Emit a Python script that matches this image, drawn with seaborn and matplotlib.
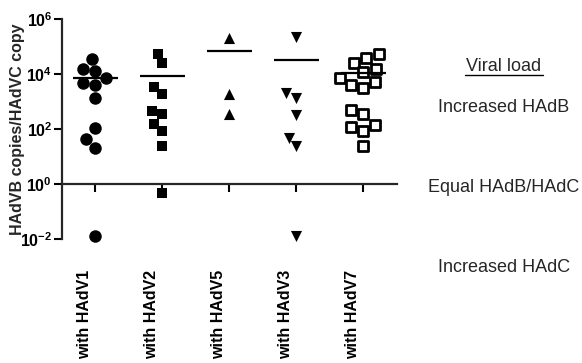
import numpy as np
import pandas as pd
import matplotlib
matplotlib.use('Agg')
import matplotlib.pyplot as plt
import seaborn as sns
from matplotlib.transforms import ScaledTranslation
from matplotlib.lines import Line2D
from matplotlib.ticker import NullLocator

# ---- data (log10 of HAdVB/HAdVC copy ratio) ----
categories = ['with HAdV1', 'with HAdV2', 'with HAdV5', 'with HAdV3', 'with HAdV7']
log_hadv1 = [4.54, 4.18, 4.10, 3.86, 3.68, 3.61, 3.12, 2.04, 1.63, 1.32, -1.88]
log_hadv2 = [4.72, 4.38, 3.52, 3.28, 2.65, 2.55, 2.16, 1.93, 1.38, -0.32]
log_hadv5 = [5.32, 3.25, 2.53]
log_hadv3 = [5.34, 3.30, 3.14, 2.50, 1.68, 1.36, -1.88]
log_hadv7 = [4.72, 4.57, 4.40, 4.18, 4.08, 3.86, 3.70, 3.58, 3.48, 2.70, 2.53,
             2.14, 2.05, 1.93, 1.38]
ytick_values = [1e-2, 1e0, 1e2, 1e4, 1e6]
ytick_labels = [r'$\mathbf{10^{-2}}$', r'$\mathbf{10^{0}}$', r'$\mathbf{10^{2}}$',
                r'$\mathbf{10^{4}}$', r'$\mathbf{10^{6}}$']
side_labels = ['Increased HAdB', 'Equal HAdB/HAdC', 'Increased HAdC']

groups = [log_hadv1, log_hadv2, log_hadv5, log_hadv3, log_hadv7]
df = pd.DataFrame({
    'group': np.concatenate([[c] * len(g) for c, g in zip(categories, groups)]),
    'ratio': 10 ** np.concatenate(groups),
})

sns.set_style('ticks')
plt.rcParams['font.family'] = ['Liberation Sans', 'DejaVu Sans']
plt.rcParams['mathtext.fontset'] = 'custom'
plt.rcParams['mathtext.rm'] = 'Liberation Sans'
plt.rcParams['mathtext.bf'] = 'Liberation Sans:weight=bold'
plt.rcParams['mathtext.default'] = 'bf'

fig, ax = plt.subplots(figsize=(5.82, 3.63), dpi=100)
fig.subplots_adjust(left=0.1065, right=0.682, top=0.948, bottom=0.342)
ax.set_yscale('log')

styles = {
    'with HAdV1': dict(marker='o', size=9, color='black', edgecolor='black', linewidth=0),
    'with HAdV2': dict(marker='s', size=7.5, color='black', edgecolor='black', linewidth=0),
    'with HAdV5': dict(marker='^', size=8, color='black', edgecolor='black', linewidth=0),
    'with HAdV3': dict(marker='v', size=8, color='black', edgecolor='black', linewidth=0),
    'with HAdV7': dict(marker='s', size=7, color='white', edgecolor='black', linewidth=2),
}

for i, cat in enumerate(categories):
    sub = df[df['group'] == cat]
    sns.swarmplot(data=sub, x='group', y='ratio', order=categories, ax=ax,
                  zorder=3, clip_on=False, **styles[cat])
    mean = sub['ratio'].mean()
    ax.hlines(mean, i - 0.34, i + 0.34, color='black', lw=1.6, zorder=4)

ax.set_xlim(-0.5, 4.5)
ax.set_ylim(1e-2, 1e6)
ax.set_yticks(ytick_values)
ax.set_yticklabels(ytick_labels, fontsize=11.5)
ax.yaxis.set_minor_locator(NullLocator())
ax.set_xlabel('')
ax.set_ylabel('HAdVB copies/HAdVC copy', fontweight='bold', fontsize=11.5)
ax.yaxis.set_label_coords(-0.11, 0.5)

for s in ['top', 'right']:
    ax.spines[s].set_visible(False)
ax.spines['bottom'].set_position(('data', 1))
ax.spines['bottom'].set_linewidth(1.6)
ax.spines['left'].set_linewidth(1.6)
ax.tick_params(axis='y', direction='out', length=6, width=1.5, pad=1, colors='black')
ax.tick_params(axis='x', direction='out', length=6, width=1.5, pad=56, colors='black')
ax.set_xticks(range(len(categories)))
ax.set_xticklabels(categories, rotation=90, fontsize=11.5)
for lab in ax.get_xticklabels():
    lab.set_fontweight('bold')
    lab.set_transform(lab.get_transform() + ScaledTranslation(-0.11, 0, fig.dpi_scale_trans))

# right-hand annotations
fig.text(0.866, 1 - 71 / 363, 'Viral load', ha='center', va='baseline', fontsize=13)
fig.add_artist(Line2D([465 / 582, 543 / 582], [1 - 74.5 / 363, 1 - 74.5 / 363],
                      color='black', lw=1.0, transform=fig.transFigure))
for lab, ypx in zip(side_labels, [107, 187, 267]):
    fig.text(0.866, 1 - ypx / 363, lab, ha='center', va='center', fontsize=13)

fig.savefig('out.png', dpi=100)
